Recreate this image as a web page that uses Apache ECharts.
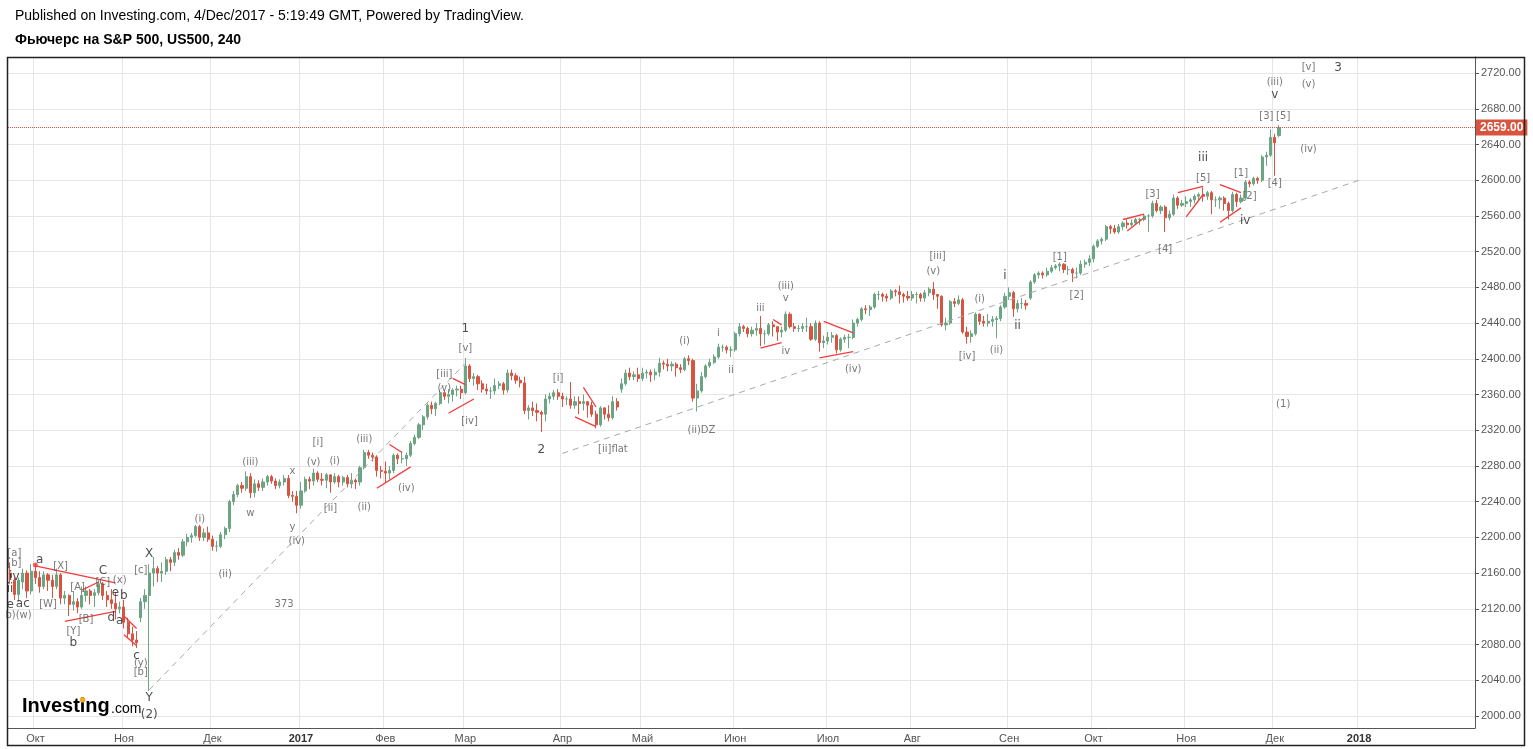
<!DOCTYPE html>
<html><head><meta charset="utf-8">
<script src="https://cdn.jsdelivr.net/npm/echarts@6.0.0/dist/echarts.min.js"></script>
<style>html,body{margin:0;padding:0;background:#fff}#c{width:1533px;height:749px}</style>
</head><body><div id="c"></div>
<script>
// ---------- DATA ----------
const tradingDays = {
 '2016-09': [23,26,27,28,29,30],
 '2016-10': [3,4,5,6,7,10,11,12,13,14,17,18,19,20,21,24,25,26,27,28,31],
 '2016-11': [1,2,3,4,7,8,9,10,11,14,15,16,17,18,21,22,23,25,28,29,30],
 '2016-12': [1,2,5,6,7,8,9,12,13,14,15,16,19,20,21,22,23,27,28,29,30],
 '2017-01': [3,4,5,6,9,10,11,12,13,17,18,19,20,23,24,25,26,27,30,31],
 '2017-02': [1,2,3,6,7,8,9,10,13,14,15,16,17,21,22,23,24,27,28],
 '2017-03': [1,2,3,6,7,8,9,10,13,14,15,16,17,20,21,22,23,24,27,28,29,30,31],
 '2017-04': [3,4,5,6,7,10,11,12,13,17,18,19,20,21,24,25,26,27,28],
 '2017-05': [1,2,3,4,5,8,9,10,11,12,15,16,17,18,19,22,23,24,25,26,30,31],
 '2017-06': [1,2,5,6,7,8,9,12,13,14,15,16,19,20,21,22,23,26,27,28,29,30],
 '2017-07': [3,5,6,7,10,11,12,13,14,17,18,19,20,21,24,25,26,27,28,31],
 '2017-08': [1,2,3,4,7,8,9,10,11,14,15,16,17,18,21,22,23,24,25,28,29,30,31],
 '2017-09': [1,5,6,7,8,11,12,13,14,15,18,19,20,21,22,25,26,27,28,29],
 '2017-10': [2,3,4,5,6,9,10,11,12,13,16,17,18,19,20,23,24,25,26,27,30,31],
 '2017-11': [1,2,3,6,7,8,9,10,13,14,15,16,17,20,21,22,24,27,28,29,30],
 '2017-12': [1,4,5,6,7,8,11,12,13,14,15,18,19,20,21,22,26,27,28,29],
 '2018-01': [2,3,4,5,8,9,10,11,12,16,17,18,19,22,23,24,25,26,29,30,31],
 '2018-02': [1,2,5,6,7,8,9]
};
const monthNames = {'02':'Фев','03':'Мар','04':'Апр','05':'Май','06':'Июн','07':'Июл','08':'Авг','09':'Сен','10':'Окт','11':'Ноя','12':'Дек'};
const lastLabelledMonth = '2018-01';

// [open, close, low, high], one per trading day from 2016-09-23
const candles = [
 // Sep 2016
 [2160,2155,2148,2172],[2152,2136,2130,2155],[2136,2152,2128,2155],[2150,2160,2142,2165],[2160,2140,2132,2163],[2140,2162,2136,2170],
 // Oct 2016
 [2162,2155,2148,2170],[2155,2145,2138,2162],[2145,2158,2142,2162],[2158,2152,2140,2160],[2152,2145,2132,2158],
 [2145,2158,2142,2165],[2158,2132,2125,2160],[2132,2135,2125,2140],[2135,2125,2112,2136],[2125,2128,2118,2140],
 [2128,2122,2115,2132],[2122,2135,2120,2145],[2135,2140,2128,2145],[2140,2135,2125,2142],[2135,2138,2122,2142],
 [2138,2148,2135,2152],[2148,2135,2130,2150],[2135,2130,2122,2140],[2130,2126,2120,2142],[2126,2120,2108,2138],
 [2120,2122,2115,2128],
 // Nov 2016
 [2122,2105,2098,2130],[2105,2092,2088,2110],[2092,2085,2078,2100],[2085,2082,2076,2095],
 [2110,2128,2105,2132],[2128,2135,2120,2142],[2135,2160,2028,2170],[2160,2165,2145,2178],[2165,2160,2150,2168],
 [2160,2162,2150,2172],[2162,2175,2158,2178],[2175,2172,2162,2178],[2172,2183,2168,2186],[2183,2180,2175,2188],
 [2180,2195,2178,2198],[2195,2200,2190,2204],[2200,2202,2194,2205],[2202,2212,2200,2214],
 [2212,2200,2196,2214],[2200,2205,2196,2210],[2205,2198,2195,2212],
 // Dec 2016
 [2198,2190,2185,2202],[2190,2190,2184,2196],
 [2190,2203,2188,2206],[2203,2210,2198,2212],[2210,2240,2206,2242],[2240,2248,2236,2252],[2248,2258,2245,2260],
 [2258,2255,2250,2262],[2255,2268,2252,2274],[2268,2250,2244,2272],[2250,2260,2245,2265],[2260,2256,2252,2264],
 [2256,2262,2252,2266],[2262,2268,2258,2270],[2268,2263,2260,2270],[2263,2258,2254,2266],[2258,2262,2255,2265],
 [2262,2266,2258,2270],[2266,2247,2244,2270],[2247,2246,2240,2252],[2246,2236,2227,2252],
 // Jan 2017
 [2236,2252,2232,2262],[2252,2265,2250,2268],[2265,2263,2254,2268],[2263,2272,2258,2277],
 [2272,2265,2262,2274],[2265,2264,2258,2272],[2264,2270,2255,2272],[2270,2262,2250,2270],[2262,2268,2260,2272],
 [2268,2262,2256,2270],[2262,2267,2258,2269],[2267,2260,2256,2270],[2260,2264,2255,2272],
 [2264,2262,2254,2266],[2262,2278,2258,2280],[2278,2295,2276,2298],[2295,2292,2288,2298],[2292,2290,2285,2295],
 [2290,2275,2268,2292],[2275,2274,2266,2280],
 // Feb 2017
 [2274,2272,2262,2285],[2272,2275,2265,2280],[2275,2292,2272,2294],
 [2292,2288,2282,2294],[2288,2288,2283,2296],[2288,2292,2280,2295],[2292,2305,2290,2308],[2305,2312,2303,2315],
 [2312,2326,2310,2328],[2326,2335,2320,2337],[2335,2348,2332,2350],[2348,2344,2338,2352],[2344,2350,2336,2352],
 [2350,2362,2348,2365],[2362,2358,2354,2364],[2358,2360,2350,2366],[2360,2365,2352,2367],
 [2365,2366,2358,2370],[2366,2362,2355,2370],
 // Mar 2017
 [2362,2392,2360,2401],[2392,2378,2374,2394],[2378,2380,2370,2384],
 [2380,2372,2365,2382],[2372,2366,2362,2376],[2366,2364,2360,2372],[2364,2364,2355,2368],[2364,2370,2360,2378],
 [2370,2372,2366,2375],[2372,2365,2360,2374],[2365,2384,2362,2388],[2384,2381,2376,2388],[2381,2376,2372,2384],
 [2376,2373,2368,2380],[2373,2342,2338,2380],[2342,2345,2332,2348],[2345,2342,2336,2352],[2342,2340,2330,2350],
 [2340,2338,2318,2342],[2338,2355,2330,2360],[2355,2358,2350,2362],[2358,2362,2354,2365],[2362,2358,2354,2366],
 // Apr 2017
 [2358,2355,2346,2362],[2355,2355,2348,2358],[2355,2348,2344,2374],[2348,2352,2344,2358],[2352,2350,2338,2358],
 [2350,2352,2342,2360],[2352,2348,2334,2352],[2348,2338,2335,2352],[2338,2326,2322,2342],
 [2326,2345,2324,2347],[2345,2338,2332,2346],[2338,2334,2330,2348],[2334,2352,2332,2358],[2352,2346,2342,2356],
 [2366,2372,2362,2378],[2372,2384,2370,2388],[2384,2380,2376,2390],[2380,2382,2376,2386],[2382,2378,2374,2390],
 // May 2017
 [2378,2384,2375,2390],[2384,2385,2378,2388],[2385,2382,2374,2388],[2382,2385,2376,2389],[2385,2395,2380,2401],
 [2395,2394,2388,2398],[2394,2392,2386,2400],[2392,2394,2386,2397],[2394,2390,2380,2396],[2390,2388,2384,2394],
 [2388,2400,2386,2402],[2400,2398,2393,2404],[2398,2356,2352,2400],[2356,2364,2341,2372],[2364,2380,2362,2385],
 [2380,2392,2378,2394],[2392,2396,2390,2400],[2396,2402,2394,2405],[2402,2413,2400,2417],[2413,2413,2408,2416],
 [2413,2410,2406,2415],[2410,2410,2402,2414],
 // Jun 2017
 [2410,2428,2408,2430],[2428,2436,2425,2440],
 [2436,2434,2430,2438],[2434,2428,2424,2436],[2428,2432,2425,2436],[2432,2434,2426,2440],[2434,2428,2414,2448],
 [2428,2428,2416,2432],[2428,2438,2426,2440],[2438,2436,2425,2442],[2436,2430,2420,2436],[2430,2432,2424,2436],
 [2432,2450,2430,2453],[2450,2436,2434,2452],[2436,2434,2430,2440],[2434,2434,2430,2438],[2434,2436,2430,2440],
 [2436,2436,2430,2446],[2436,2422,2420,2440],[2422,2440,2420,2443],[2440,2418,2408,2442],[2418,2420,2412,2426],
 // Jul 2017
 [2420,2424,2416,2430],[2424,2426,2418,2430],[2426,2410,2406,2428],[2410,2422,2408,2424],
 [2422,2424,2418,2427],[2424,2424,2412,2428],[2424,2440,2422,2444],[2440,2444,2436,2446],[2444,2456,2442,2458],
 [2456,2455,2450,2460],[2455,2458,2448,2460],[2458,2472,2456,2474],[2472,2472,2466,2476],[2472,2470,2464,2474],
 [2470,2468,2464,2473],[2468,2476,2466,2478],[2476,2475,2470,2478],[2475,2472,2462,2482],[2472,2470,2463,2474],
 [2470,2468,2465,2476],
 // Aug 2017
 [2468,2472,2465,2476],[2472,2472,2462,2475],[2472,2468,2464,2474],[2468,2474,2464,2477],
 [2474,2478,2470,2480],[2478,2472,2466,2486],[2472,2470,2456,2472],[2470,2438,2436,2471],[2438,2440,2432,2446],
 [2440,2464,2438,2466],[2464,2462,2458,2468],[2462,2466,2460,2471],[2466,2430,2428,2468],[2430,2425,2417,2436],
 [2425,2428,2418,2432],[2428,2450,2426,2452],[2450,2442,2438,2451],[2442,2440,2436,2448],[2440,2442,2436,2450],
 [2442,2444,2436,2448],[2444,2445,2423,2448],[2445,2458,2442,2460],[2458,2470,2456,2474],
 // Sep 2017
 [2470,2474,2466,2480],
 [2474,2456,2447,2476],[2456,2462,2452,2466],[2462,2462,2456,2468],[2462,2460,2455,2466],
 [2468,2486,2466,2488],[2486,2494,2484,2496],[2494,2496,2490,2498],[2496,2494,2490,2498],[2494,2498,2492,2502],
 [2498,2502,2496,2505],[2502,2504,2500,2506],[2504,2506,2498,2508],[2506,2500,2496,2507],[2500,2500,2494,2504],
 [2500,2496,2486,2502],[2496,2496,2490,2502],[2496,2506,2494,2510],[2506,2508,2502,2511],[2508,2512,2504,2516],
 // Oct 2017
 [2512,2526,2508,2528],[2526,2532,2524,2534],[2532,2534,2528,2536],[2534,2548,2532,2550],[2548,2546,2540,2550],
 [2546,2542,2540,2550],[2542,2548,2540,2551],[2548,2552,2544,2554],[2552,2550,2546,2556],[2550,2552,2548,2556],
 [2552,2556,2550,2558],[2556,2556,2550,2558],[2556,2560,2554,2562],[2560,2560,2542,2562],[2560,2574,2558,2577],
 [2574,2566,2564,2578],[2566,2570,2562,2572],[2570,2558,2542,2572],[2558,2562,2555,2566],[2562,2580,2560,2584],
 [2580,2572,2568,2582],[2572,2574,2570,2578],
 // Nov 2017
 [2574,2576,2570,2582],[2576,2578,2570,2580],[2578,2582,2574,2584],
 [2582,2584,2578,2586],[2584,2582,2576,2592],[2582,2586,2578,2588],[2586,2578,2562,2588],[2578,2578,2570,2582],
 [2578,2580,2568,2582],[2580,2574,2566,2582],[2574,2566,2556,2576],[2566,2584,2564,2587],[2584,2576,2570,2586],
 [2576,2580,2574,2584],[2580,2598,2578,2600],[2598,2596,2592,2600],[2596,2602,2594,2604],
 [2602,2600,2596,2604],[2600,2626,2598,2628],[2626,2628,2616,2632],[2628,2648,2626,2657],
 // Dec 2017
 [2648,2642,2605,2652],[2650,2659,2648,2662]
];
const lastPrice = 2659;

// wave labels [date, price, text]
const majorLabels = [
 ['2016-09-26',2156,'iv'],['2016-09-23',2142,'ii'],['2016-09-23',2124,'e'],['2016-09-28',2125,'ac'],
 ['2016-10-04',2175,'a'],['2016-10-14',2082,'b'],['2016-10-25',2163,'C'],
 ['2016-10-28',2138,'e'],['2016-11-01',2134,'b'],['2016-10-27',2110,'d'],['2016-10-31',2107,'a'],
 ['2016-11-09',2182,'X'],['2016-11-04',2067,'c'],['2016-11-09',2020,'Y'],['2016-11-09',2001,'(2)'],
 ['2017-03-01',2433,'1'],['2017-03-27',2298,'2'],['2017-12-22',2726,'3'],
 ['2017-08-31',2493,'i'],['2017-09-06',2437,'ii'],['2017-11-07',2625,'iii'],['2017-11-21',2554,'iv'],['2017-12-01',2696,'v']
];
const minorLabels = [
 ['2016-09-26',2182,'[a]'],['2016-09-26',2171,'[b]'],['2016-09-27',2113,'b)(w)'],
 ['2016-10-11',2168,'[X]'],['2016-10-06',2125,'[W]'],['2016-10-17',2144,'[A]'],['2016-10-19',2108,'[B]'],['2016-10-14',2095,'[Y]'],
 ['2016-10-25',2150,'[C]'],['2016-10-31',2152,'(x)'],
 ['2016-11-07',2163,'[c]'],['2016-11-07',2059,'(y)'],['2016-11-07',2049,'[b]'],
 ['2016-11-28',2220,'(i)'],['2016-12-06',2159,'(ii)'],['2016-12-14',2284,'(iii)'],['2016-12-14',2227,'w'],
 ['2016-12-29',2274,'x'],['2016-12-29',2211,'y'],['2016-12-30',2196,'(iv)'],['2016-12-27',2125,'373'],
 ['2017-01-09',2306,'[i]'],['2017-01-06',2284,'(v)'],['2017-01-13',2285,'(i)'],['2017-01-12',2232,'[ii]'],
 ['2017-01-25',2234,'(ii)'],['2017-01-25',2310,'(iii)'],['2017-02-08',2255,'(iv)'],
 ['2017-02-22',2382,'[iii]'],['2017-02-22',2367,'(v)'],['2017-03-01',2412,'[v]'],['2017-03-02',2330,'[iv]'],
 ['2017-03-31',2378,'[i]'],['2017-04-20',2298,'[ii]flat'],['2017-05-15',2420,'(i)'],['2017-05-19',2320,'(ii)DZ'],
 ['2017-05-25',2428,'i'],['2017-05-31',2387,'ii'],['2017-06-09',2456,'iii'],['2017-06-19',2481,'(iii)'],['2017-06-19',2468,'v'],['2017-06-19',2408,'iv'],
 ['2017-07-12',2388,'(iv)'],['2017-08-09',2515,'[iii]'],['2017-08-08',2498,'(v)'],['2017-08-18',2403,'[iv]'],
 ['2017-08-23',2467,'(i)'],['2017-08-29',2409,'(ii)'],['2017-09-20',2513,'[1]'],['2017-09-26',2471,'[2]'],
 ['2017-10-20',2584,'[3]'],['2017-10-25',2523,'[4]'],['2017-11-07',2602,'[5]'],['2017-11-20',2608,'[1]'],['2017-11-22',2582,'[2]'],
 ['2017-11-29',2671,'[3]'],['2017-12-05',2671,'[5]'],['2017-12-01',2596,'[4]'],['2017-12-01',2710,'(iii)'],
 ['2017-12-13',2726,'[v]'],['2017-12-13',2707,'(v)'],['2017-12-13',2634,'(iv)'],['2017-12-05',2349,'(1)']
];
const redDots = [['2016-10-03',2169]];
const redSegments = [
 [['2016-10-03',2168],['2016-10-28',2149]],
 [['2016-10-12',2106],['2016-10-28',2117]],
 [['2016-10-18',2141],['2016-10-24',2150]],
 [['2016-11-01',2112],['2016-11-04',2098]],
 [['2016-11-01',2091],['2016-11-04',2079]],
 [['2017-02-02',2304],['2017-02-07',2295]],
 [['2017-01-30',2255],['2017-02-09',2279]],
 [['2017-02-24',2378],['2017-03-01',2371]],
 [['2017-02-23',2339],['2017-03-03',2355]],
 [['2017-04-10',2368],['2017-04-13',2346]],
 [['2017-04-06',2335],['2017-04-13',2324]],
 [['2017-06-14',2444],['2017-06-16',2438]],
 [['2017-06-09',2412],['2017-06-16',2418]],
 [['2017-06-30',2442],['2017-07-12',2429]],
 [['2017-06-29',2401],['2017-07-12',2408]],
 [['2017-10-11',2556],['2017-10-18',2562]],
 [['2017-10-12',2543],['2017-10-18',2558]],
 [['2017-10-30',2586],['2017-11-07',2593]],
 [['2017-11-01',2559],['2017-11-07',2584]],
 [['2017-11-13',2595],['2017-11-20',2586]],
 [['2017-11-13',2553],['2017-11-20',2569]]
];
const trendLines = [
 [['2016-11-09',2029],['2017-03-01',2395]],
 [['2017-04-03',2294],['2018-01-02',2600]]
];

// ---------- BUILD ----------
const categories = [];
Object.keys(tradingDays).forEach(m => tradingDays[m].forEach(d => categories.push(m + '-' + String(d).padStart(2,'0'))));
const isMonthStart = i => i > 0 && categories[i].slice(0,7) <= lastLabelledMonth &&
  categories[i].slice(0,7) !== categories[i-1].slice(0,7);

const FONT = 'Liberation Sans, Arial, sans-serif';
const series = [{
  type:'candlestick', data: candles, barWidth:'62%', z:2,
  itemStyle:{color:'#6ba583', color0:'#d75442', borderColor:'#6ba583', borderColor0:'#d75442', borderWidth:1},
  markLine:{
    silent:true, symbol:['none','none'], animation:false,
    lineStyle:{color:'#d9543f', type:'dotted', width:1},
    label:{show:true, position:'end', distance:1, formatter: () => lastPrice.toFixed(2),
      backgroundColor:'#d9543f', color:'#fff', fontWeight:'bold', fontSize:12, fontFamily:FONT, padding:[2,4,2,4]},
    data:[{yAxis:lastPrice}]
  }
}];
trendLines.forEach(seg => series.push({type:'line', data:seg, symbol:'none', silent:true, z:3,
  lineStyle:{color:'#a8a8a8', width:1, type:[6,5]}}));
redSegments.forEach(seg => series.push({type:'line', data:seg, symbol:'none', silent:true, z:4,
  lineStyle:{color:'#f23b3b', width:1.3}}));
series.push({type:'scatter', data:redDots, symbolSize:5, itemStyle:{color:'#f23b3b'}, silent:true, z:5});
function labelSeries(arr, color, size){
  return {type:'scatter', data:arr, symbolSize:0, silent:true, z:6, encode:{x:0,y:1},
    label:{show:true, position:'inside', formatter:p => p.data[2], color:color, fontSize:size, fontFamily:'DejaVu Sans'}};
}
series.push(labelSeries(minorLabels, '#555', 10));
series.push(labelSeries(majorLabels, '#222', 12));

const chart = echarts.init(document.getElementById('c'));
chart.setOption({
  animation:false,
  backgroundColor:'#fff',
  grid:{left:8, right:58, top:57, bottom:21, containLabel:false},
  xAxis:{
    type:'category', data:categories, boundaryGap:true,
    axisLine:{lineStyle:{color:'#555'}},
    axisTick:{interval:(i)=>isMonthStart(i), length:4, lineStyle:{color:'#555'}},
    axisLabel:{interval:(i)=>isMonthStart(i), margin:5, color:'#555', fontSize:11, fontFamily:FONT,
      formatter:(v)=>{const m=v.slice(5,7); return m==='01' ? '{b|'+v.slice(0,4)+'}' : monthNames[m];},
      rich:{b:{fontWeight:'bold', color:'#333', fontSize:11, fontFamily:FONT}}},
    splitLine:{show:true, interval:(i)=>isMonthStart(i), lineStyle:{color:'#e6e6e6'}}
  },
  yAxis:{
    type:'value', position:'right', min:1986.5, max:2738, minInterval:40, maxInterval:40, splitNumber:19,
    axisLine:{show:true, lineStyle:{color:'#555'}},
    axisTick:{show:true, length:4, lineStyle:{color:'#555'}},
    axisLabel:{formatter:v=>v.toFixed(2), showMinLabel:false, showMaxLabel:false, margin:6, color:'#555', fontSize:11, fontFamily:FONT},
    splitLine:{lineStyle:{color:'#e6e6e6'}}
  },
  series: series,
  graphic:[
    {type:'text', left:15, top:9, style:{text:'Published on Investing.com, 4/Dec/2017 - 5:19:49 GMT, Powered by TradingView.', fill:'#000', font:'14px Liberation Sans'}},
    {type:'text', left:15, top:33, style:{text:'Фьючерс на S&P 500, US500, 240', fill:'#000', font:'bold 14px Liberation Sans'}},
    {type:'rect', shape:{x:7.5, y:57.5, width:1517, height:688}, style:{fill:'none', stroke:'#222', lineWidth:1.5}, silent:true, z:10},
    {type:'text', x:22, y:706, style:{text:'Investing', fill:'#000', font:'bold 20px Liberation Sans', verticalAlign:'middle'}, z:10},
    {type:'circle', shape:{cx:82.6, cy:699.8, r:2.8}, style:{fill:'#f5a623'}, z:11},
    {type:'text', x:111, y:709, style:{text:'.com', fill:'#000', font:'14px Liberation Sans', verticalAlign:'middle'}, z:10}
  ]
});
</script></body></html>
